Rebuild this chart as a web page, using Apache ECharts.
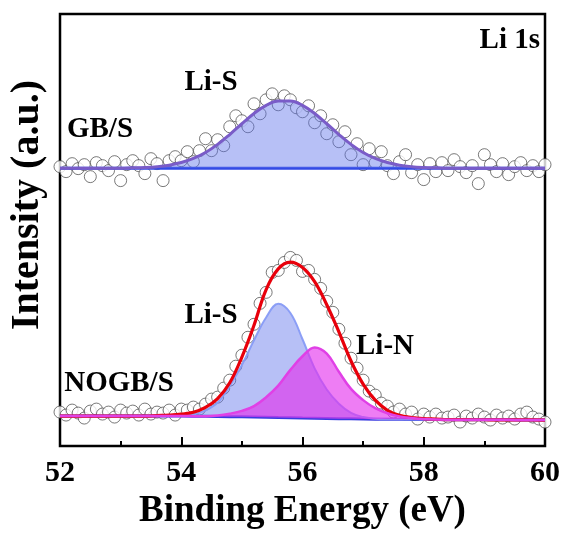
<!DOCTYPE html>
<html><head><meta charset="utf-8">
<script src="https://cdn.jsdelivr.net/npm/echarts@6/dist/echarts.min.js"></script>
<style>html,body{margin:0;padding:0;background:#fff}#c{width:563px;height:535px}</style>
</head><body><div id="c"></div>
<script>
// ---- measured points (binding energy, eV) ----
const energyPts = [52.0,52.1,52.2,52.3,52.4,52.5,52.6,52.7,52.8,52.9,
  53.0,53.1,53.2,53.3,53.4,53.5,53.6,53.7,53.8,53.9,
  54.0,54.1,54.2,54.3,54.4,54.5,54.6,54.7,54.8,54.9,
  55.0,55.1,55.2,55.3,55.4,55.5,55.6,55.7,55.8,55.9,
  56.0,56.1,56.2,56.3,56.4,56.5,56.6,56.7,56.8,56.9,
  57.0,57.1,57.2,57.3,57.4,57.5,57.6,57.7,57.8,57.9,
  58.0,58.1,58.2,58.3,58.4,58.5,58.6,58.7,58.8,58.9,
  59.0,59.1,59.2,59.3,59.4,59.5,59.6,59.7,59.8,59.9,60.0];
const gbPoints = [280,275,283,278,282,270,284,281,276,285,
  266,282,286,281,273,288,283,266,286,290,
  286,295,285,296,308,296,307,301,320,331,
  326,320,343,333,347,353,342,351,347,339,
  335,341,324,331,313,322,305,315,292,303,
  282,298,284,295,281,273,285,292,274,282,
  267,283,275,284,276,287,280,274,281,263,
  292,282,275,283,272,280,284,276,281,275,282];
const nogbPoints = [34,31,36,33,28,35,37,32,34,29,
  36,33,35,31,37,32,34,33,36,31,
  37,36,39,37,42,47,49,58,66,80,
  91,109,122,143,154,174,176,184,189,186,
  175,176,167,158,145,134,117,103,88,78,
  66,55,51,43,40,34,37,32,34,27,
  32,29,32,28,29,31,24,30,28,32,
  29,26,31,28,30,27,32,34,29,27,24];

// ---- fitted curves (evenly spaced energies) ----
const fitE = ['52.0','52.2','52.4','52.6','52.8','53.0','53.2','53.4','53.6','53.8',
  '54.0','54.2','54.4','54.6','54.8','55.0','55.2','55.4','55.6','55.8',
  '56.0','56.2','56.4','56.6','56.8','57.0','57.2','57.4','57.6','57.8',
  '58.0','58.2','58.4','58.6','58.8','59.0','59.2','59.4','59.6','59.8','60.0'];
const gbBaseline = [278.5,278.5,278.5,278.5,278.5,278.5,278.5,278.5,278.5,278.5,
  278.5,278.5,278.5,278.5,278.5,278.5,278.5,278.5,278.5,278.5,
  278.5,278.5,278.5,278.5,278.5,278.5,278.5,278.5,278.5,278.5,
  278.5,278.5,278.5,278.5,278.5,278.5,278.5,278.5,278.5,278.5,278.5];
const gbLiS = [0,0,0,0,0,0,0.3,0.7,1.5,3,
  5.6,9.7,15.7,23.8,33.7,44.5,54.8,62.9,67.4,67.4,
  62.9,54.8,44.5,33.7,23.8,15.7,9.7,5.6,3,1.5,
  0.7,0.3,0,0,0,0,0,0,0,0,0];
const nogbBaseline = [30,30,30,30,30,30,30,30,30,30,
  30,29.9,29.8,29.6,29.4,29.2,29,28.8,28.5,28.3,
  28,27.8,27.6,27.4,27.2,27,26.9,26.8,26.7,26.6,
  26.5,26.5,26.4,26.4,26.3,26.3,26.2,26.2,26.1,26.1,26];
const nogbLiS = [0,0,0,0,0,0,0,0,0,0,
  1,2,6,14,31,52,77,100,114,105,
  79,50,29,15,6,2,0.5,0,0,0,
  0,0,0,0,0,0,0,0,0,0,0];
const nogbLiN = [0,0,0,0,0,0,0,0,0,0,
  0,0,0,1,3,6,11,20,32,48,
  62,71,65,47,30,19,11,6,3,1.5,
  0.5,0,0,0,0,0,0,0,0,0,0];
const nogbEnvelope = [0,0,0,0,0,0,0,0,0.5,1,
  2,4,9,18,34,60,92,128,149,156,
  151,137,114,87,58,35,19,9,4,2,
  1,0.5,0,0,0,0,0,0,0,0,0];

const xTickLabels = ['52','54','56','58','60'];

const FONT = '"Liberation Serif","Times New Roman",serif';
const pairs = (xs, ys) => xs.map((x, i) => [x, ys[i]]);
const nogbEnvAbs = nogbEnvelope.map((v, i) => v + nogbBaseline[i]);

const chart = echarts.init(document.getElementById('c'), null, {renderer: 'canvas'});
const circleStyle = {color: '#ffffff', borderColor: '#444', borderWidth: 0.9};
const fitLine = {type: 'line', xAxisIndex: 1, symbol: 'none', silent: true};

chart.setOption({
  animation: false,
  grid: {left: 60, top: 14, right: 18, bottom: 88, show: true, borderColor: '#000', borderWidth: 2.5, backgroundColor: 'transparent'},
  xAxis: [{
    type: 'value', min: 52, max: 60, interval: 2,
    axisLine: {show: false},
    axisTick: {show: true, inside: true, length: 9, lineStyle: {color: '#000', width: 2}},
    minorTick: {show: true, splitNumber: 2, length: 5, lineStyle: {color: '#000', width: 2}},
    splitLine: {show: false},
    axisLabel: {
      fontFamily: FONT, fontWeight: 'bold', fontSize: 30, color: '#000', margin: 12,
      formatter: v => xTickLabels[Math.round((v - 52) / 2)] || ''
    },
    name: 'Binding Energy (eV)', nameLocation: 'middle', nameGap: 47,
    nameTextStyle: {fontFamily: FONT, fontWeight: 'bold', fontSize: 37, color: '#000'}
  }, {
    type: 'category', data: fitE, boundaryGap: false, show: false
  }],
  yAxis: {
    type: 'value', min: 0, max: 433,
    axisLine: {show: false}, axisTick: {show: false}, axisLabel: {show: false}, splitLine: {show: false},
    name: 'Intensity (a.u.)', nameLocation: 'middle', nameGap: 12,
    nameTextStyle: {fontFamily: FONT, fontWeight: 'bold', fontSize: 40, color: '#000', padding: [0, 0, 0, 50]}
  },
  graphic: [
    {type: 'text', x: 540, y: 41, style: {text: 'Li 1s', fontFamily: FONT, fontWeight: 'bold', fontSize: 29, fill: '#000', align: 'right', verticalAlign: 'middle'}},
    {type: 'text', x: 211, y: 83, style: {text: 'Li-S', fontFamily: FONT, fontWeight: 'bold', fontSize: 29, fill: '#000', align: 'center', verticalAlign: 'middle'}},
    {type: 'text', x: 100, y: 130, style: {text: 'GB/S', fontFamily: FONT, fontWeight: 'bold', fontSize: 29, fill: '#000', align: 'center', verticalAlign: 'middle'}},
    {type: 'text', x: 211, y: 316, style: {text: 'Li-S', fontFamily: FONT, fontWeight: 'bold', fontSize: 29, fill: '#000', align: 'center', verticalAlign: 'middle'}},
    {type: 'text', x: 385, y: 347, style: {text: 'Li-N', fontFamily: FONT, fontWeight: 'bold', fontSize: 29, fill: '#000', align: 'center', verticalAlign: 'middle'}},
    {type: 'text', x: 119, y: 384, style: {text: 'NOGB/S', fontFamily: FONT, fontWeight: 'bold', fontSize: 29, fill: '#000', align: 'center', verticalAlign: 'middle'}}
  ],
  series: [
    {type: 'scatter', data: pairs(energyPts, gbPoints), symbol: 'circle', symbolSize: 12, itemStyle: circleStyle, z: 1, silent: true},
    {type: 'scatter', data: pairs(energyPts, nogbPoints), symbol: 'circle', symbolSize: 12, itemStyle: circleStyle, z: 1, silent: true},
    Object.assign({}, fitLine, {stack: 'gb', data: gbBaseline, lineStyle: {color: '#2f45e6', width: 3}, z: 2}),
    Object.assign({}, fitLine, {stack: 'gb', data: gbLiS, smooth: 0.4, lineStyle: {color: '#7a5cc8', width: 3}, areaStyle: {color: 'rgba(95,115,235,0.45)', opacity: 1}, z: 3}),
    Object.assign({}, fitLine, {stack: 'ns', data: nogbBaseline, lineStyle: {color: '#3a3ae0', width: 3}, z: 2}),
    Object.assign({}, fitLine, {stack: 'ns', data: nogbLiS, smooth: 0.4, lineStyle: {color: 'rgba(135,155,245,0.95)', width: 2}, areaStyle: {color: 'rgba(95,115,235,0.45)', opacity: 1}, z: 3}),
    Object.assign({}, fitLine, {data: nogbEnvAbs, smooth: 0.4, lineStyle: {color: '#e8000b', width: 3.2}, z: 4}),
    Object.assign({}, fitLine, {stack: 'nn', data: nogbBaseline, lineStyle: {opacity: 0, width: 0}, z: 2}),
    Object.assign({}, fitLine, {stack: 'nn', data: nogbLiN, smooth: 0.4, lineStyle: {color: '#e040e6', width: 2.5}, areaStyle: {color: 'rgba(228,45,238,0.62)', opacity: 1}, z: 5})
  ]
});
</script>
</body></html>
